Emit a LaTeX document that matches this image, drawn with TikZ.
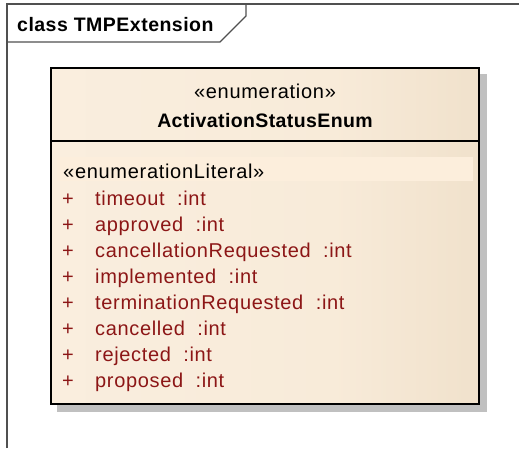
\documentclass[tikz,border=0pt]{standalone}
\usepackage{fontspec}
\setmainfont{Liberation Sans}
\usetikzlibrary{shadings}
\definecolor{litred}{RGB}{140,22,22}
\definecolor{frameline}{RGB}{80,80,80}
\definecolor{fillL}{RGB}{251,240,226}
\definecolor{fillM}{RGB}{248,235,217}
\definecolor{fillR}{RGB}{229,211,184}
\definecolor{bandfill}{RGB}{252,238,220}
\definecolor{shadowgray}{RGB}{192,192,192}
\pgfdeclarehorizontalshading{classgrad}{100bp}{color(0bp)=(fillL); color(58bp)=(fillM); color(100bp)=(fillR)}
\tikzset{
  frametxt/.style={font=\fontsize{19.5}{22}\selectfont\bfseries\addfontfeature{LetterSpace=2.5}, anchor=base west, inner sep=0pt},
  stereo/.style={font=\fontsize{20}{22}\selectfont\addfontfeature{LetterSpace=3.5}, anchor=base, inner sep=0pt},
  clsname/.style={font=\fontsize{19.5}{22}\selectfont\bfseries\addfontfeature{LetterSpace=2}, anchor=base, inner sep=0pt},
  littxt/.style={font=\fontsize{20}{22}\selectfont\addfontfeature{LetterSpace=3.3}, anchor=base west, inner sep=0pt, text=litred},
}
\begin{document}
\begin{tikzpicture}[x=1pt,y=-1pt]
\useasboundingbox (0,0) rectangle (519,448);
% frame
\draw[frameline, line width=1.5pt] (7,448) -- (7,4) -- (519,4);
\draw[frameline, line width=1.2pt] (7,42) -- (220,42) -- (246,16) -- (246,4);
\node[frametxt] (title) at (17,31) {class TMPExtension};
% shadow
\fill[shadowgray] (57,74) rectangle (487,412);
% class box
\shade[shading=classgrad] (51,68) rectangle (479,404);
\fill[bandfill] (57,157) rectangle (473,181);
\draw[black, line width=2pt] (51,68) rectangle (479,404);
\draw[black, line width=1.5pt] (51,141) -- (479,141);
\node[stereo] (st) at (265,98) {«enumeration»};
\node[clsname] (nm) at (265,127) {ActivationStatusEnum};
\node[stereo, anchor=base west] (lit) at (63,178) {«enumerationLiteral»};
\foreach \t [count=\i from 0] in {timeout,approved,cancellationRequested,implemented,terminationRequested,cancelled,rejected,proposed}{
  \node[littxt] (p\i) at (62,205+26*\i) {+};
  \node[littxt] (l\i) at (95,205+26*\i) {\t\ \ :int};
}
\end{tikzpicture}
\end{document}
